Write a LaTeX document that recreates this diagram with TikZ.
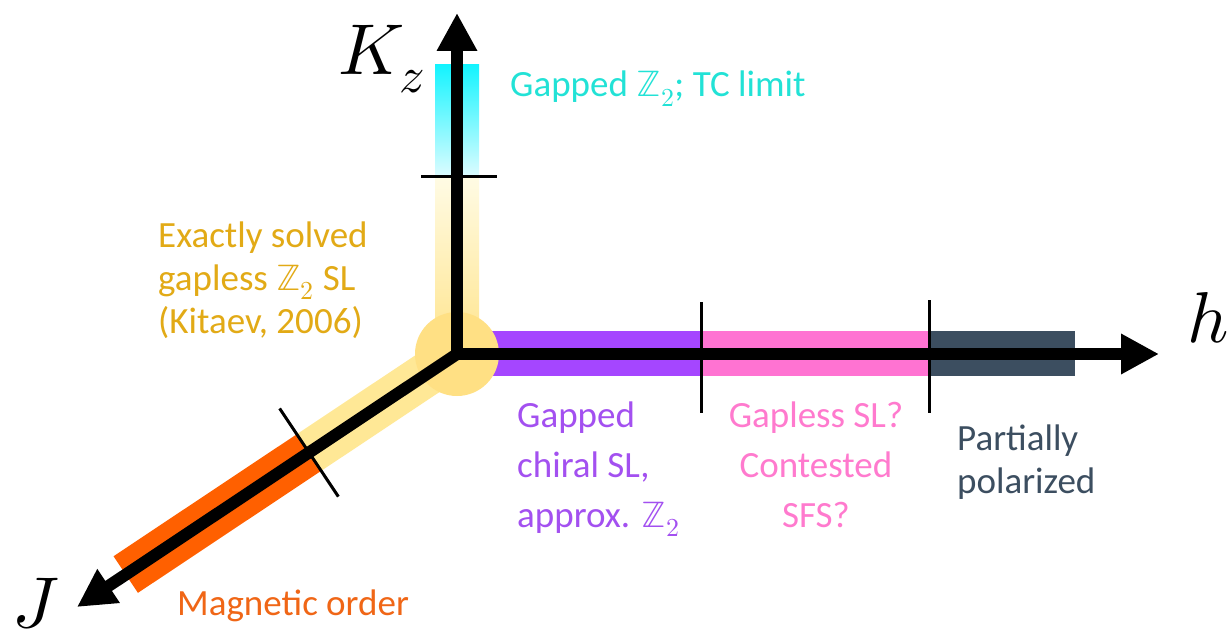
\documentclass[tikz,border=0pt]{standalone}
\usepackage{fontspec}
\usepackage{unicode-math}
\setmainfont{Carlito}
\setmathfont{Latin Modern Math}
\usetikzlibrary{arrows.meta,calc}
\definecolor{cyanText}{RGB}{34,226,214}
\definecolor{cyanTop}{RGB}{20,244,255}
\definecolor{cyanBot}{RGB}{222,252,255}
\definecolor{goldText}{RGB}{226,170,22}
\definecolor{yelTop}{RGB}{255,251,228}
\definecolor{yelBot}{RGB}{255,228,140}
\definecolor{yelBand}{RGB}{255,232,150}
\definecolor{yelCirc}{RGB}{255,224,132}
\definecolor{purpBand}{RGB}{165,70,255}
\definecolor{purpText}{RGB}{163,80,240}
\definecolor{pinkBand}{RGB}{255,115,210}
\definecolor{pinkText}{RGB}{255,122,206}
\definecolor{slate}{RGB}{60,78,96}
\definecolor{orBand}{RGB}{255,96,0}
\definecolor{orText}{RGB}{240,102,22}
\tikzset{
  axisline/.style={line width=12pt, line join=miter},
  tip/.style={-{Triangle[length=38pt,width=38pt]}},
  tickmark/.style={line width=3pt},
  band/.style={line width=44pt},
  lbl/.style={inner sep=0pt, font=\fontsize{37}{43}\selectfont},
  lblwide/.style={inner sep=0pt, font=\fontsize{37}{50}\selectfont},
  axlbl/.style={inner sep=0pt, font=\fontsize{72}{72}\selectfont},
}
\begin{document}
\begin{tikzpicture}[x=1pt,y=-1pt]
\useasboundingbox[fill=white] (0,0) rectangle (1232,639);
\coordinate (O) at (457,354);
\coordinate (Ktip) at (457,13);
\coordinate (Htip) at (1159,354);
\coordinate (Jtip) at (77,607);
\coordinate (Jtick) at ($(O)!177.8pt!(Jtip)$);
\coordinate (Jend) at ($(O)!398pt!(Jtip)$);
\coordinate (Jstart) at ($(O)!-4pt!(Jtip)$);
% bands
\shade[top color=cyanTop, bottom color=cyanBot] (435,65) rectangle (479,177);
\shade[top color=yelTop, bottom color=yelBot] (435,177) rectangle (479,354);
\draw[band, yelBand] (O) -- (Jtick);
\draw[band, orBand] (Jtick) -- (Jend);
\fill[purpBand] (457,331) rectangle (701,376);
\fill[pinkBand] (701,331) rectangle (929,376);
\fill[slate] (929,331) rectangle (1075,376);
\fill[yelCirc] (O) circle[radius=42pt];
% axes
\draw[axisline, {Triangle[length=38pt,width=38pt]}-{Triangle[length=38pt,width=38pt]}] (Ktip) -- (O) -- (Htip);
\draw[axisline, tip] (Jstart) -- (Jtip);
% ticks
\draw[tickmark] (421,177) -- (497,177);
\draw[tickmark] (701,302) -- (701,413);
\draw[tickmark] (929,300) -- (929,413);
\coordinate (Jt1) at ($(Jtick)!53pt!90:(Jtip)$);
\coordinate (Jt2) at ($(Jtick)!53pt!-90:(Jtip)$);
\draw[tickmark] (Jt1) -- (Jt2);
% axis labels
\node[axlbl, anchor=base west] (kz) at (338,75) {$K_z$};
\node[axlbl, anchor=base west] (hl) at (1187,342) {$h$};
\node[axlbl, anchor=base west] (jl) at (12,627) {$J$};
% region labels (base anchor = last line)
\node[lbl, anchor=base west, text=cyanText] (tc) at (510,97) {Gapped $\mathbb{Z}_2$; TC limit};
\node[lbl, anchor=base west, align=left, text=goldText] (kit) at (158,333) {Exactly solved\\gapless $\mathbb{Z}_2$ SL\\(Kitaev, 2006)};
\node[lblwide, anchor=base west, align=left, text=purpText] (chi) at (517,527) {Gapped\\chiral SL,\\approx. $\mathbb{Z}_2$};
\node[lblwide, anchor=base, align=center, text=pinkText] (gl) at (816,527) {Gapless SL?\\Contested\\SFS?};
\node[lbl, anchor=base west, align=left, text=slate] (pp) at (957,493) {Partially\\polarized};
\node[lbl, anchor=base west, text=orText] (mo) at (177,615) {Magnetic order};
\end{tikzpicture}
\end{document}
